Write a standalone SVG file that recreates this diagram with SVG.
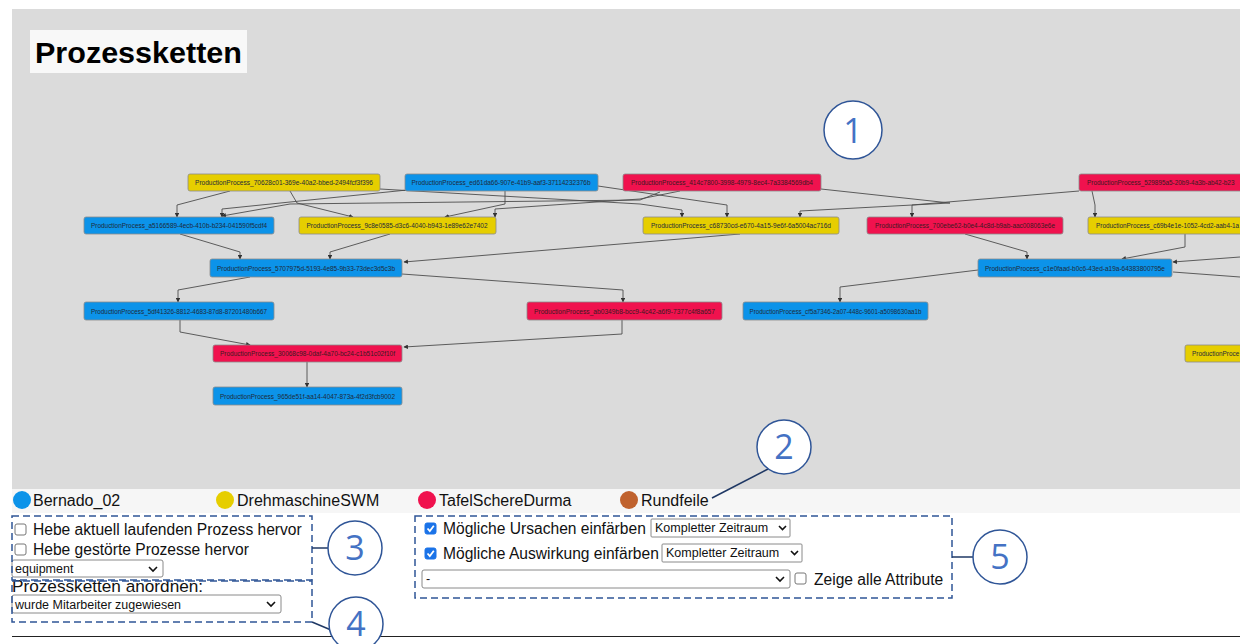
<svg xmlns="http://www.w3.org/2000/svg" width="1240" height="644" viewBox="0 0 1240 644">
  <defs>
    <style>
      .canvas { fill: #dbdbdb; }
      .node rect { stroke: #8c8c8c; stroke-width: 0.8; }
      .nb rect { fill: #0c93e9; }
      .ny rect { fill: #e6ce00; }
      .nr rect { fill: #f0124e; }
      .node text { font-family: "Liberation Sans", Arial, sans-serif; font-size: 6.4px; fill: #1e2a3a; }
      .nr text { fill: #3a1a22; }
      .edge { fill: none; stroke: #4d4d4d; stroke-width: 0.9; marker-end: url(#arr); }
      .ui { font-family: "Liberation Sans", Arial, Helvetica, sans-serif; fill: #111; }
      .sel { fill: #fff; stroke: #8a8a8a; stroke-width: 1; }
      .chev { fill: none; stroke: #111; stroke-width: 1.6; }
      .cb { fill: #fff; stroke: #777; stroke-width: 1; }
      .cbon { fill: #1a73e8; stroke: #1a73e8; stroke-width: 1; }
      .tick { fill: none; stroke: #fff; stroke-width: 1.8; }
      .dash { fill: none; stroke: #2f5597; stroke-width: 1.5; stroke-dasharray: 7 4; }
      .callout circle { fill: #fff; stroke: #2f5597; stroke-width: 1.5; }
      .callout text { font-family: "Open Sans", "Liberation Sans", sans-serif; font-size: 34px; fill: #4472c4; text-anchor: middle; }
      .lead { stroke: #1f3864; stroke-width: 1.5; fill: none; }
    </style>
    <marker id="arr" viewBox="0 0 8 8" refX="7" refY="4" markerWidth="5" markerHeight="5" orient="auto">
      <path d="M0,0 L8,4 L0,8 z" fill="#333"/>
    </marker>
  </defs>

  <rect width="1240" height="644" fill="#ffffff"/>
  <!-- graph canvas -->
  <rect class="canvas" x="12" y="9" width="1228" height="480"/>
  <!-- legend bar -->
  <rect x="12" y="489" width="1228" height="24" fill="#f6f6f6"/>

  <!-- heading -->
  <g id="title">
    <rect x="30" y="30" width="217" height="43" fill="#f8f8f8"/>
    <text x="35" y="63" font-family="Liberation Sans, Arial, sans-serif" font-size="29" font-weight="bold" fill="#000" textLength="207" lengthAdjust="spacingAndGlyphs">Prozessketten</text>
  </g>

  <!-- connectors -->
  <g id="connectors">
    <path class="edge" d="M230,191 L177,205 L177,217"/>
    <path class="edge" d="M407,190 L222,209 L222,217"/>
    <path class="edge" d="M660,192 L640,200 L290,204 L222,216"/>
    <path class="edge" d="M290,191 L297,203 L353,217"/>
    <path class="edge" d="M505,191 L505,204 L445,217"/>
    <path class="edge" d="M680,191 L640,199 L495,209 L495,217"/>
    <path class="edge" d="M380,189 L640,204 L682,210 L682,217"/>
    <path class="edge" d="M598,186 L727,205 L727,217"/>
    <path class="edge" d="M821,189 L950,203 L800,211 L800,217"/>
    <path class="edge" d="M1079,191 L912,205 L912,217"/>
    <path class="edge" d="M1092,191 L1095,205 L1095,217"/>
    <path class="edge" d="M180,234 L240,252 L240,259"/>
    <path class="edge" d="M390,234 L330,252 L330,259"/>
    <path class="edge" d="M740,234 L404,262"/>
    <path class="edge" d="M965,234 L1027,252 L1027,259"/>
    <path class="edge" d="M1185,234 L1185,247 L1122,259"/>
    <path class="edge" d="M1240,257 L1173,262"/>
    <path class="edge" d="M1173,272 L1240,277" style="marker-end:none"/>
    <path class="edge" d="M250,277 L178,290 L178,302"/>
    <path class="edge" d="M402,274 L623,290 L623,302"/>
    <path class="edge" d="M978,270 L840,287 L840,302"/>
    <path class="edge" d="M180,320 L180,332 L250,345"/>
    <path class="edge" d="M622,320 L622,334 L404,347"/>
    <path class="edge" d="M307,362 L307,387"/>
  </g>

  <!-- process nodes -->
  <g id="n-70628c01" class="node ny"><rect x="188" y="174" width="192" height="17" rx="2"/><text x="284" y="185" text-anchor="middle" textLength="178" lengthAdjust="spacingAndGlyphs">ProductionProcess_70628c01-369e-40a2-bbed-2494fcf3f396</text></g>
  <g id="n-ed61da66" class="node nb"><rect x="405" y="174" width="193" height="17" rx="2"/><text x="501" y="185" text-anchor="middle" textLength="179" lengthAdjust="spacingAndGlyphs">ProductionProcess_ed61da66-907e-41b9-aaf3-37114232376b</text></g>
  <g id="n-414c7800" class="node nr"><rect x="623" y="174" width="198" height="17" rx="2"/><text x="722" y="185" text-anchor="middle" textLength="182" lengthAdjust="spacingAndGlyphs">ProductionProcess_414c7800-3998-4979-8ec4-7a3384569db4</text></g>
  <g id="n-529895a5" class="node nr"><rect x="1079" y="174" width="200" height="17" rx="2"/><text x="1087" y="185">ProductionProcess_529895a5-20b9-4a3b-ab42-b23</text></g>

  <g id="n-a5166589" class="node nb"><rect x="84" y="217" width="190" height="17" rx="2"/><text x="179" y="228" text-anchor="middle" textLength="176" lengthAdjust="spacingAndGlyphs">ProductionProcess_a5166589-4ecb-410b-b234-041590f5cdf4</text></g>
  <g id="n-9c8e0585" class="node ny"><rect x="299" y="217" width="197" height="17" rx="2"/><text x="397" y="228" text-anchor="middle" textLength="181" lengthAdjust="spacingAndGlyphs">ProductionProcess_9c8e0585-d3c6-4040-b943-1e89e62e7402</text></g>
  <g id="n-c68730cd" class="node ny"><rect x="643" y="217" width="196" height="17" rx="2"/><text x="741" y="228" text-anchor="middle" textLength="180" lengthAdjust="spacingAndGlyphs">ProductionProcess_c68730cd-e670-4a15-9e6f-6a5004ac716d</text></g>
  <g id="n-700ebe62" class="node nr"><rect x="867" y="217" width="196" height="17" rx="2"/><text x="965" y="228" text-anchor="middle" textLength="180" lengthAdjust="spacingAndGlyphs">ProductionProcess_700ebe62-b0e4-4c8d-b9ab-aac008063e6e</text></g>
  <g id="n-c69b4e1e" class="node ny"><rect x="1088" y="217" width="200" height="17" rx="2"/><text x="1096" y="228">ProductionProcess_c69b4e1e-1052-4cd2-aab4-1a</text></g>

  <g id="n-5707975d" class="node nb"><rect x="210" y="259" width="192" height="18" rx="2"/><text x="306" y="270.5" text-anchor="middle" textLength="178" lengthAdjust="spacingAndGlyphs">ProductionProcess_5707975d-5193-4e85-9b33-73dec3d5c3b</text></g>
  <g id="n-c1e0faad" class="node nb"><rect x="978" y="259" width="194" height="18" rx="2"/><text x="1075" y="270.5" text-anchor="middle" textLength="180" lengthAdjust="spacingAndGlyphs">ProductionProcess_c1e0faad-b0c6-43ed-a19a-64383800795e</text></g>

  <g id="n-5df41326" class="node nb"><rect x="84" y="302" width="190" height="18" rx="2"/><text x="179" y="313.5" text-anchor="middle" textLength="176" lengthAdjust="spacingAndGlyphs">ProductionProcess_5df41326-8812-4683-87d8-87201480b667</text></g>
  <g id="n-ab0349b8" class="node nr"><rect x="527" y="302" width="195" height="18" rx="2"/><text x="624.5" y="313.5" text-anchor="middle" textLength="181" lengthAdjust="spacingAndGlyphs">ProductionProcess_ab0349b8-bcc9-4c42-a6f9-7377c4f8a657</text></g>
  <g id="n-cf5a7346" class="node nb"><rect x="743" y="302" width="185" height="18" rx="2"/><text x="835.5" y="313.5" text-anchor="middle" textLength="172" lengthAdjust="spacingAndGlyphs">ProductionProcess_cf5a7346-2a07-448c-9601-a5098630aa1b</text></g>

  <g id="n-30068c98" class="node nr"><rect x="213" y="345" width="189" height="17" rx="2"/><text x="307.5" y="356" text-anchor="middle" textLength="175" lengthAdjust="spacingAndGlyphs">ProductionProcess_30068c98-0daf-4a70-bc24-c1b51c02f10f</text></g>
  <g id="n-edge-right" class="node ny"><rect x="1185" y="345" width="120" height="17" rx="2"/><text x="1192" y="356">ProductionProce</text></g>

  <g id="n-965de51f" class="node nb"><rect x="213" y="387" width="189" height="18" rx="2"/><text x="307.5" y="398.5" text-anchor="middle" textLength="175" lengthAdjust="spacingAndGlyphs">ProductionProcess_965de51f-aa14-4047-873a-4f2d3fcb9002</text></g>

  <!-- legend -->
  <g id="legend" class="ui" font-size="16">
    <circle cx="22" cy="500" r="9" fill="#0c93e9"/>
    <text x="33" y="506">Bernado_02</text>
    <circle cx="225" cy="500" r="9" fill="#e6ce00"/>
    <text x="237" y="506">DrehmaschineSWM</text>
    <circle cx="427" cy="500" r="9" fill="#f0124e"/>
    <text x="439" y="506">TafelSchereDurma</text>
    <circle cx="629" cy="500" r="9" fill="#c0622e"/>
    <text x="641" y="506">Rundfeile</text>
  </g>

  <!-- highlight options -->
  <g id="highlight-controls" class="ui" font-size="15.6">
    <rect class="cb" x="15" y="524" width="11" height="11" rx="2"/>
    <text x="33" y="535">Hebe aktuell laufenden Prozess hervor</text>
    <rect class="cb" x="15" y="544" width="11" height="11" rx="2"/>
    <text x="33" y="555">Hebe gestörte Prozesse hervor</text>
    <rect class="sel" x="12" y="560" width="151" height="17" rx="2"/>
    <text x="15" y="573" font-size="12.5">equipment</text>
    <path class="chev" d="M149,567 L153,571 L157,567"/>
  </g>

  <!-- arrangement options -->
  <g id="arrange-controls" class="ui">
    <text x="12" y="592" font-size="17.2">Prozessketten anordnen:</text>
    <rect class="sel" x="12" y="595" width="269" height="18" rx="2"/>
    <text x="15" y="608.5" font-size="12.5">wurde Mitarbeiter zugewiesen</text>
    <path class="chev" d="M267,602 L271,606 L275,602"/>
  </g>

  <!-- cause / effect options -->
  <g id="cause-controls" class="ui" font-size="15.6">
    <rect class="cbon" x="425" y="523" width="11" height="11" rx="2"/>
    <path class="tick" d="M427.5,528.5 L429.8,531 L433.8,525.8"/>
    <text x="443" y="534">Mögliche Ursachen einfärben</text>
    <rect class="sel" x="651" y="519" width="139" height="18" rx="1"/>
    <text x="655" y="532" font-size="12.5">Kompletter Zeitraum</text>
    <path class="chev" d="M779,526 L782.5,529.5 L786,526"/>

    <rect class="cbon" x="425" y="548" width="11" height="11" rx="2"/>
    <path class="tick" d="M427.5,553.5 L429.8,556 L433.8,550.8"/>
    <text x="443" y="559">Mögliche Auswirkung einfärben</text>
    <rect class="sel" x="662" y="544" width="140" height="18" rx="1"/>
    <text x="666" y="557" font-size="12.5">Kompletter Zeitraum</text>
    <path class="chev" d="M791,551 L794.5,554.5 L798,551"/>

    <rect class="sel" x="422" y="570" width="368" height="18" rx="2"/>
    <text x="426" y="583" font-size="12.5">-</text>
    <path class="chev" d="M776,577 L780,581 L784,577"/>
    <rect class="cb" x="795" y="573" width="11" height="11" rx="2"/>
    <text x="814" y="585">Zeige alle Attribute</text>
  </g>

  <!-- dashed section frames -->
  <g id="frames">
    <rect class="dash" x="12" y="516" width="300" height="64"/>
    <rect class="dash" x="12" y="581" width="300" height="41"/>
    <rect class="dash" x="415" y="516" width="537" height="82"/>
  </g>

  <!-- bottom rule -->
  <line x1="12" y1="636.5" x2="1240" y2="636.5" stroke="#222" stroke-width="1"/>

  <!-- numbered callouts -->
  <g id="callout-1" class="callout"><circle cx="853" cy="130" r="29"/><text x="853" y="143">1</text></g>
  <g id="callout-2" class="callout"><line class="lead" x1="768" y1="469" x2="712" y2="498"/><circle cx="784" cy="447" r="27"/><text x="784" y="459">2</text></g>
  <g id="callout-3" class="callout"><line class="lead" x1="312" y1="548" x2="328" y2="548"/><circle cx="355" cy="548" r="27"/><text x="355" y="560">3</text></g>
  <g id="callout-4" class="callout"><line class="lead" x1="312" y1="622" x2="331" y2="630"/><circle cx="356" cy="624" r="27"/><text x="356" y="636">4</text></g>
  <g id="callout-5" class="callout"><line class="lead" x1="952" y1="557" x2="973" y2="557"/><circle cx="1000" cy="557" r="27"/><text x="1000" y="569">5</text></g>
</svg>
